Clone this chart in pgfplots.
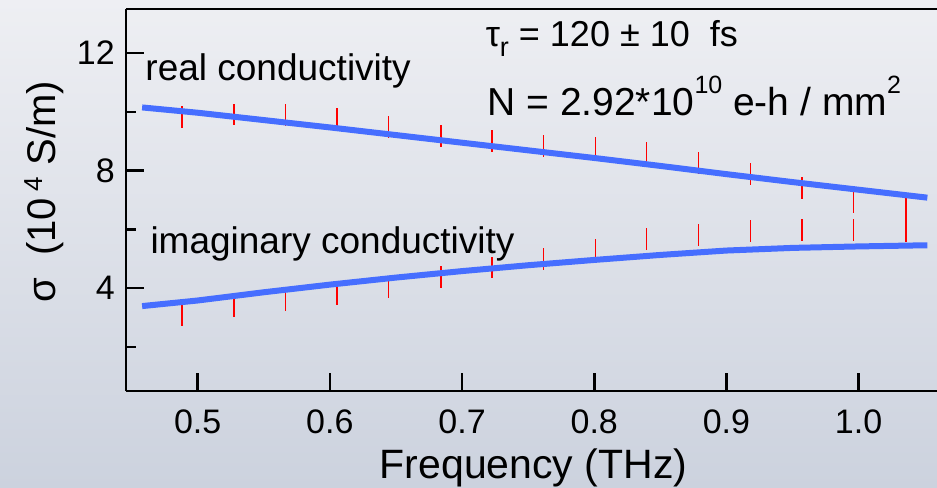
\documentclass[border=0pt]{standalone}
\usepackage{fontspec}
\setmainfont{Liberation Sans}
\usepackage{pgfplots}
\pgfplotsset{compat=1.18}
\usepackage{pgfplotstable}
\definecolor{bgtop}{RGB}{238,239,243}
\definecolor{bgbot}{RGB}{204,210,222}
\definecolor{fitblue}{RGB}{70,110,255}
\definecolor{barred}{RGB}{255,0,0}

\pgfplotstableread{
x y e
0.4882 9.82 0.37
0.5275 9.91 0.37
0.5666 9.88 0.37
0.6054 9.80 0.34
0.6445 9.48 0.37
0.6841 9.17 0.37
0.7227 9.00 0.37
0.7617 8.83 0.37
0.8011 8.78 0.35
0.8396 8.62 0.36
0.8790 8.25 0.37
0.9183 7.88 0.37
0.9572 7.40 0.37
0.9962 6.91 0.36
1.0359 6.32 0.76
}\realbars

\pgfplotstableread{
x y e
0.4882 3.075 0.365
0.5275 3.35 0.34
0.5666 3.56 0.34
0.6054 3.755 0.335
0.6445 3.98 0.32
0.6841 4.37 0.37
0.7227 4.70 0.36
0.7617 4.98 0.37
0.8011 5.33 0.33
0.8396 5.665 0.375
0.8790 5.80 0.37
0.9183 5.935 0.375
0.9572 5.965 0.375
0.9962 5.97 0.37
1.0359 5.95 0.37
}\imagbars

\pgfplotstableread{
x y
0.458 10.15
0.500 9.97
0.550 9.72
0.600 9.47
0.650 9.21
0.700 8.95
0.750 8.69
0.800 8.43
0.850 8.16
0.900 7.88
0.950 7.61
1.000 7.35
1.052 7.08
}\realfit

\pgfplotstableread{
x y
0.458 3.39
0.500 3.58
0.550 3.86
0.600 4.12
0.650 4.36
0.700 4.58
0.750 4.78
0.800 4.96
0.850 5.13
0.900 5.28
0.950 5.37
1.000 5.42
1.052 5.46
}\imagfit

\begin{document}
\begin{tikzpicture}
\shade[top color=bgtop, bottom color=bgbot] (-126pt,-96.3pt) rectangle (811pt,391pt);
\begin{axis}[
  at={(0pt,0pt)}, anchor=south west,
  scale only axis,
  width=811pt, height=382pt,
  xmin=0.4458, xmax=1.0593,
  ymin=0.5, ymax=13.5,
  axis x line=box, axis y line=left,
  x axis line style={-, line width=2.6pt},
  y axis line style={-, line width=2.6pt},
  xtick pos=left, ytick pos=left,
  tick align=inside,
  xtick={0.5,0.6,0.7,0.8,0.9,1.0},
  xticklabels={0.5,0.6,0.7,0.8,0.9,1.0},
  ytick={4,8,12},
  minor ytick={2,6,10},
  major tick length=18pt,
  minor tick length=10pt,
  every tick/.style={black, line width=2.6pt},
  /pgf/number format/assume math mode=true,
  xticklabel style={font=\fontsize{34}{34}\selectfont, inner sep=0pt, anchor=north, yshift=-19pt},
  yticklabel style={font=\fontsize{34}{34}\selectfont, inner sep=0pt, anchor=east, xshift=-11pt},
  xlabel={Frequency (THz)},
  every axis x label/.style={at={(axis description cs:0.5025,0)}, anchor=base, yshift=-87.3pt, inner sep=0pt, font=\fontsize{41}{41}\selectfont},
  ylabel={σ\ \ (10\,\raisebox{13pt}{\fontsize{26}{26}\selectfont 4} S/m)},
  every axis y label/.style={at={(axis description cs:-0.0875,0.5215)}, rotate=90, anchor=base, inner sep=0pt, font=\fontsize{40}{40}\selectfont},
  clip=true,
]
\addplot[draw=none, mark=none, forget plot,
  error bars/.cd, y dir=both, y explicit, error mark=none,
  error bar style={draw=barred, line width=1.2pt}]
  table[x=x, y=y, y error=e] {\realbars};
\addplot[draw=none, mark=none, forget plot,
  error bars/.cd, y dir=both, y explicit, error mark=none,
  error bar style={draw=barred, line width=1.2pt}]
  table[x=x, y=y, y error=e] {\imagbars};
\addplot[fitblue, line width=6pt, no marks] table[x=x, y=y] {\realfit};
\addplot[fitblue, line width=6pt, no marks] table[x=x, y=y] {\imagfit};

\node[anchor=base west, inner sep=0pt, font=\fontsize{37}{37}\selectfont] at (axis cs:0.4604,11.07) {real conductivity};
\node[anchor=base west, inner sep=0pt, font=\fontsize{37}{37}\selectfont] at (axis cs:0.4642,5.17) {imaginary conductivity};
\node[anchor=base west, inner sep=0pt, font=\fontsize{36}{36}\selectfont] at (axis cs:0.7178,12.24) {τ\raisebox{-10pt}{\fontsize{27}{27}\selectfont r} = 120 ± 10\ \ fs};
\node[anchor=base west, inner sep=0pt, font=\fontsize{39}{39}\selectfont] at (axis cs:0.7191,9.88) {N = 2.92*10\raisebox{22pt}{\fontsize{25}{25}\selectfont 10} e-h / mm\raisebox{22pt}{\fontsize{25}{25}\selectfont 2}};
\end{axis}
\pgfresetboundingbox
\useasboundingbox (-126pt,-96.3pt) rectangle (811pt,391pt);
\end{tikzpicture}
\end{document}
